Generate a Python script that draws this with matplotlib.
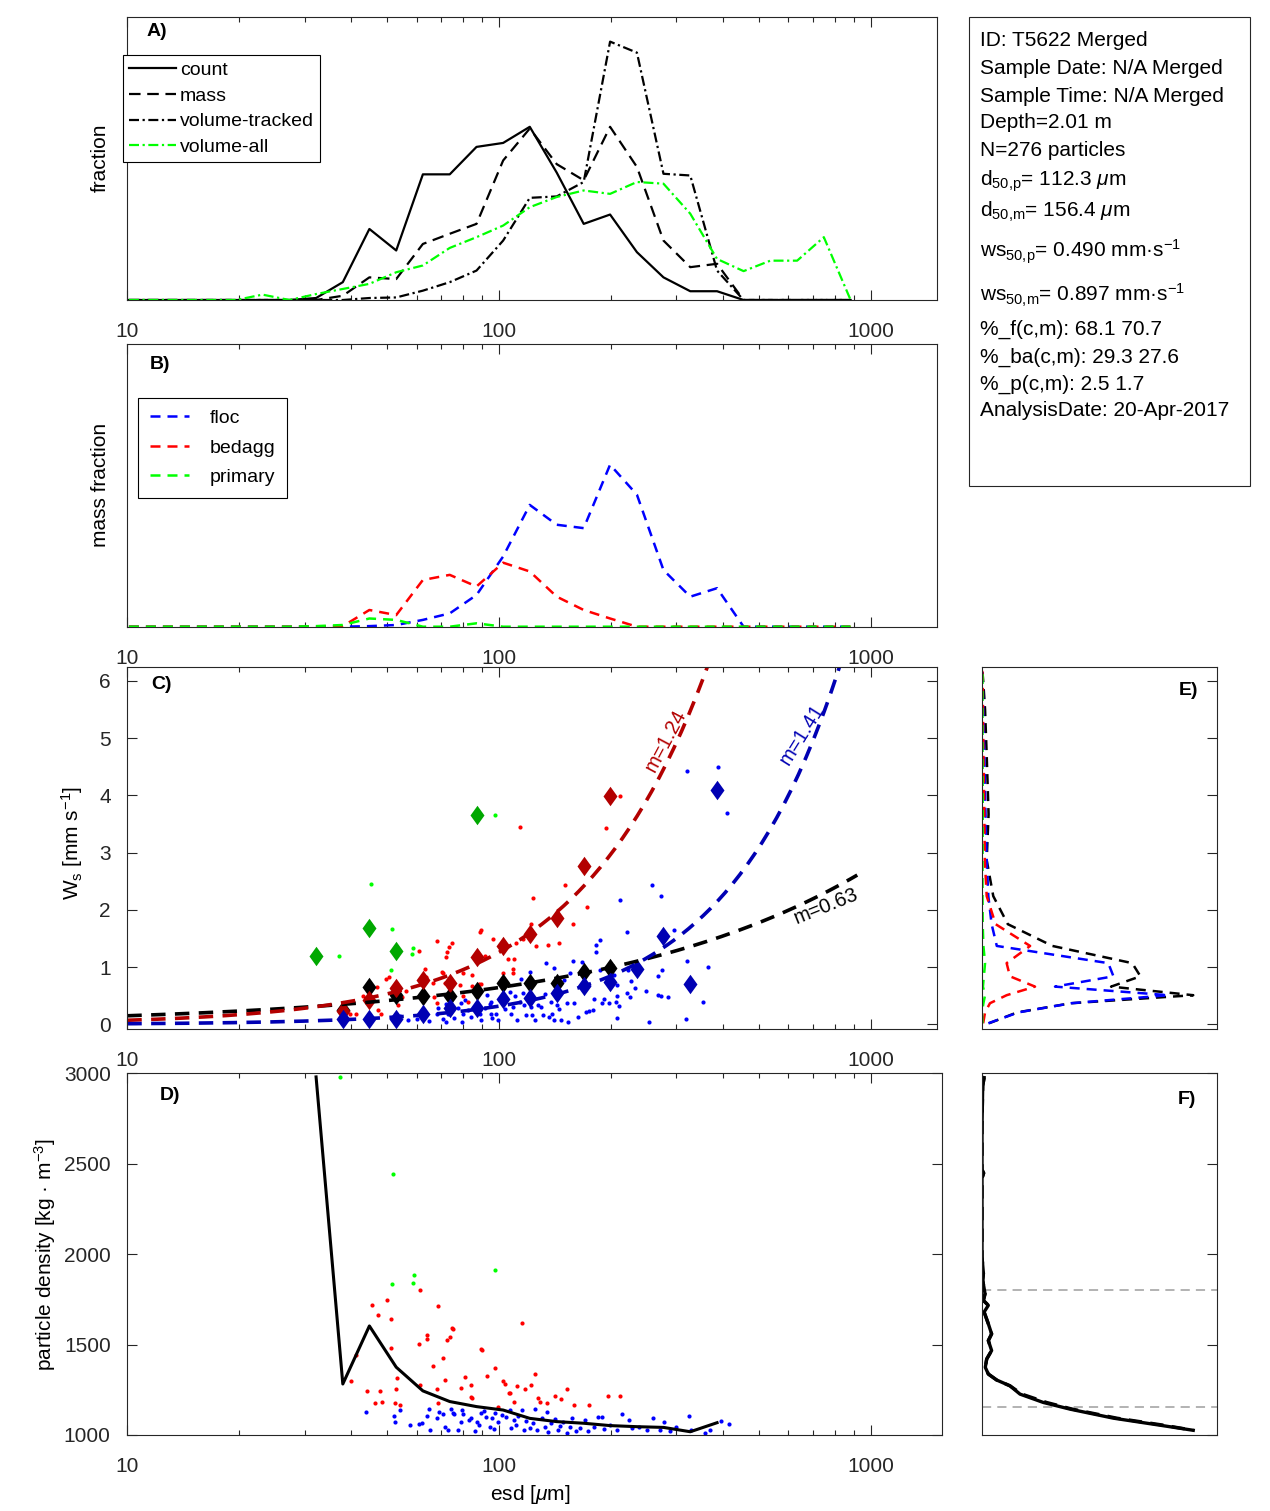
import numpy as np
import matplotlib
matplotlib.use('Agg')
import matplotlib.pyplot as plt
from matplotlib.ticker import LogLocator, FuncFormatter, NullFormatter
from matplotlib.patches import Rectangle

plt.rcParams['font.family'] = ['Liberation Sans', 'DejaVu Sans']
plt.rcParams['mathtext.fontset'] = 'custom'
plt.rcParams['mathtext.rm'] = 'Liberation Sans'
plt.rcParams['mathtext.it'] = 'Liberation Sans:italic'
plt.rcParams['mathtext.bf'] = 'Liberation Sans:bold'
plt.rcParams['mathtext.default'] = 'regular'

AXC = '#262626'
plt.rcParams['axes.edgecolor'] = AXC
plt.rcParams['axes.linewidth'] = 0.8
plt.rcParams['xtick.color'] = AXC
plt.rcParams['ytick.color'] = AXC

# ---- size bins (esd, um) ----
bins = [10.1, 11.9, 14.1, 16.6, 19.6, 23.1, 27.3, 32.2, 38.0, 44.8, 52.9, 62.4, 73.7, 87.0,
        102.6, 121.0, 143.0, 169.0, 199.0, 235.0, 277.0, 327.0, 386.0, 455.0, 537.0, 634.0,
        748.0, 883.0]

# panel A (relative fraction)
count = [0, 0, 0, 0, 0, 0, 0, 0.007, 0.063, 0.251, 0.175, 0.444, 0.444, 0.541, 0.555, 0.612,
         0.45, 0.269, 0.302, 0.169, 0.080, 0.031, 0.031, 0, 0, 0, 0, 0]
mass = [0, 0, 0, 0, 0, 0, 0, 0.0, 0.015, 0.080, 0.074, 0.198, 0.234, 0.269, 0.493, 0.606,
        0.48, 0.423, 0.612, 0.470, 0.210, 0.116, 0.128, 0, 0, 0, 0, 0]
vol_tracked = [0, 0, 0, 0, 0, 0, 0, 0.0, 0.0, 0.007, 0.009, 0.033, 0.063, 0.104, 0.210, 0.361,
               0.366, 0.417, 0.913, 0.874, 0.446, 0.440, 0.104, 0, 0, 0, 0, 0]
vol_all = [0, 0, 0, 0, 0, 0.019, 0.0, 0.021, 0.039, 0.057, 0.098, 0.122, 0.184, 0.222, 0.263,
           0.328, 0.364, 0.387, 0.375, 0.417, 0.411, 0.305, 0.145, 0.102, 0.139, 0.139, 0.222, 0.0]

# panel B (relative mass fraction)
floc = [0, 0, 0, 0, 0, 0, 0, 0, 0, 0.002, 0.006, 0.024, 0.047, 0.112, 0.248, 0.430, 0.360,
        0.348, 0.572, 0.466, 0.200, 0.106, 0.136, 0, 0, 0, 0, 0]
bedagg = [0, 0, 0, 0, 0, 0, 0, 0, 0.002, 0.059, 0.041, 0.165, 0.183, 0.142, 0.226, 0.195,
          0.106, 0.059, 0.029, 0, 0, 0, 0, 0, 0, 0, 0, 0]
primary = [0, 0, 0, 0, 0, 0, 0, 0.002, 0.006, 0.029, 0.024, 0, 0, 0.012, 0, 0, 0, 0, 0, 0,
           0, 0, 0, 0, 0, 0, 0, 0]

# panel C: bin medians of settling velocity (mm/s)
all_d = [38.0, 44.8, 52.9, 62.4, 73.7, 87.0, 102.6, 121.0, 143.0, 169.0, 199.0]
all_ws = [0.25, 0.66, 0.52, 0.50, 0.50, 0.59, 0.72, 0.72, 0.72, 0.92, 0.98]
ba_d = [38.0, 44.8, 52.9, 62.4, 73.7, 87.0, 102.6, 121.0, 143.0, 169.0, 199.0]
ba_ws = [0.24, 0.42, 0.63, 0.77, 0.73, 1.18, 1.37, 1.58, 1.85, 2.76, 3.99]
fl_d = [38.0, 44.8, 52.9, 62.4, 73.7, 87.0, 102.6, 121.0, 143.0, 169.0, 199.0, 235.0, 277.0,
        327.0, 386.0]
fl_ws = [0.087, 0.10, 0.10, 0.175, 0.28, 0.28, 0.436, 0.454, 0.54, 0.67, 0.745, 0.96, 1.54,
         0.70, 4.10]
pr_d = [32.2, 44.8, 52.9, 87.0]
pr_ws = [1.19, 1.69, 1.28, 3.65]

# power-law fits ws = a * d^m
fit_a = [0.0354, 0.00417, 0.000483]
fit_m = [0.63, 1.24, 1.41]

# individual particles in C (esd, ws)
red_C = [(113.7, 3.44), (194, 3.43), (211.8, 3.99), (123.6, 2.21), (150.4, 2.44), (172.5, 2.05),
         (158, 1.75), (145.2, 1.43), (135.4, 1.38), (125.9, 1.37), (121.6, 1.76), (115.8, 1.49),
         (111.1, 1.43), (89.6, 1.65), (88.7, 1.61), (96.4, 1.49), (91.5, 1.19), (105.8, 1.14),
         (109.6, 1.15), (109, 0.97), (109, 0.90), (102.8, 0.89), (84.4, 0.86), (88.5, 0.70),
         (80.1, 0.89), (84.7, 0.67), (89.2, 0.70), (78.3, 0.68), (80.1, 0.49), (82.7, 0.40),
         (86.9, 0.34), (63.2, 0.97), (63.7, 0.83), (66.6, 0.72), (67.9, 1.45), (71.8, 1.18),
         (72.3, 1.26), (73.3, 1.35), (74.8, 1.42), (70.1, 0.92), (70.7, 0.89), (71.5, 0.73),
         (74.5, 0.68), (73.7, 0.48), (66.9, 0.48), (68.3, 0.37), (61, 1.29), (56.1, 0.59),
         (54.8, 0.48), (53.6, 0.34), (50.7, 0.83), (47.4, 0.25), (48.1, 0.18), (49.8, 0.80),
         (46.9, 0.66), (43, 0.49), (39.8, 0.19), (41.2, 0.18)]
green_C = [(37.2, 1.19), (45.3, 2.45), (51.4, 1.67), (51.2, 0.95), (58.6, 1.33), (58.2, 1.23),
           (97.5, 3.65)]
blue_C = [(43.8, 0.08), (52.1, 0.10), (52.5, 0.07), (54.2, 0.14), (57.0, 0.076), (60.0, 0.087),
          (64.9, 0.052), (68.2, 0.175), (68.6, 0.28), (70.8, 0.087), (72.2, 0.046), (71.8, 0.355),
          (73.0, 0.19), (75.3, 0.28), (75.7, 0.116), (77.6, 0.28), (79.3, 0.035), (78.9, 0.367),
          (81.2, 0.425), (80.1, 0.19), (82.6, 0.25), (84.3, 0.134), (89.7, 0.076), (88.8, 0.175),
          (91.5, 0.28), (93.1, 0.51), (94.4, 0.35), (95.4, 0.396), (95.4, 0.18), (95.8, 0.105),
          (98.4, 0.19), (99.4, 0.076), (103.6, 0.27), (104.6, 0.425), (106.8, 0.57), (107.5, 0.19),
          (109.1, 0.31), (110.2, 0.495), (112.0, 0.076), (113.6, 0.396), (114.8, 0.79), (116.0, 0.54),
          (116.7, 0.338), (118.4, 0.163), (120.9, 0.92), (122.1, 0.31), (122.6, 0.163), (124.6, 0.076),
          (127.2, 0.338), (129.8, 0.31), (131.2, 0.163), (132.6, 0.524), (134.0, 1.066), (135.9, 0.134),
          (137.6, 0.396), (138.7, 0.19), (140.4, 0.98), (141.0, 0.076), (143.3, 0.338), (143.9, 0.524),
          (144.8, 0.268), (147.0, 0.076), (150.0, 0.775), (152.5, 0.367), (153.1, 0.046), (155.0, 0.90),
          (157.9, 1.10), (159.5, 0.38), (163.5, 0.134), (167.3, 1.095), (171.5, 0.21), (175.0, 0.233),
          (178.7, 0.25), (180.5, 0.437), (182.4, 1.387), (182.8, 1.27), (187.4, 1.47), (187.4, 0.95),
          (189.6, 0.37), (191.2, 0.45), (198.2, 0.38), (203.3, 0.86), (206.1, 0.40), (207.3, 0.50),
          (208.2, 0.68), (208.2, 0.12), (209.8, 0.33), (211.5, 2.17), (220.9, 0.55), (221.3, 1.61),
          (221.7, 0.95), (225.0, 0.47), (226.0, 0.75), (231.6, 0.63), (248.6, 0.58), (253.8, 0.05),
          (257.7, 2.44), (267.0, 0.84), (267.0, 0.52), (272.4, 0.50), (273.5, 2.25), (274.0, 0.95),
          (284.9, 0.48), (295.8, 1.64), (318.1, 0.09), (321.1, 4.43), (321.1, 1.10), (353.0, 0.40),
          (364.8, 1.01), (388.9, 4.49), (409.4, 3.69)]

# panel D: median density per bin, individual particles (esd, kg/m3)
dens_d = [32.2, 38.0, 44.8, 52.9, 62.4, 73.7, 87.0, 102.6, 121.0, 143.0, 169.0, 199.0, 235.0,
          277.0, 327.0, 386.0]
dens_med = [2980, 1282, 1603, 1375, 1244, 1185, 1157, 1138, 1092, 1074, 1065, 1052, 1046, 1042,
            1018, 1068]
red_D = [(40.0, 1301), (41.3, 1443), (44.1, 1245), (47.7, 1244), (46.5, 1175), (48.5, 1181),
         (45.4, 1720), (47.2, 1664), (50.1, 1747), (51.1, 1640), (51.1, 1482), (53.2, 1314),
         (52.8, 1253), (52.5, 1175), (54.2, 1166), (61.2, 1803), (61.3, 1277), (61.1, 1502),
         (63.9, 1554), (64.2, 1530), (66.4, 1382), (68.4, 1716), (67.9, 1253), (68.4, 1175),
         (70.5, 1428), (71.7, 1304), (72.4, 1526), (73.8, 1544), (74.6, 1594), (75.2, 1585),
         (79.1, 1258), (80.9, 1319), (83.9, 1277), (84.1, 1208), (84.6, 1203), (89.6, 1474),
         (90.2, 1470), (92.9, 1328), (97.3, 1369), (99.2, 1157), (102.5, 1301), (103.5, 1282),
         (106.3, 1234), (107, 1231), (109.8, 1185), (112, 1271), (115.3, 1622), (117.3, 1255),
         (122, 1277), (125.2, 1338), (127.3, 1203), (128.8, 1185), (135, 1175), (141.4, 1216),
         (147.1, 1197), (152, 1253), (159.1, 1166), (174.4, 1166), (196.3, 1216), (211.8, 1216)]
green_D = [(37.4, 2980), (51.8, 2445), (51.5, 1834), (59.0, 1887), (58.8, 1838), (97.6, 1910)]
blue_D = [(43.8, 1125), (52.1, 1105), (52.5, 1074), (54.2, 1138), (57.5, 1055), (60.8, 1061),
          (62.0, 1065), (63.9, 1107), (64.7, 1142), (65.2, 1028), (68.2, 1092), (69.1, 1129),
          (70.5, 1116), (71.5, 1046), (72.9, 1028), (74.1, 1142), (75.0, 1120), (75.5, 1114),
          (77.8, 1028), (79.1, 1074), (79.4, 1138), (80.2, 1116), (83.1, 1083), (84.0, 1092),
          (86.4, 1024), (87.3, 1074), (88.2, 1055), (89.6, 1120), (91.4, 1133), (92.5, 1101),
          (94.8, 1046), (96.0, 1092), (97.2, 1031), (97.7, 1120), (99.2, 1074), (101.8, 1111),
          (104.5, 1101), (107.0, 1138), (107.6, 1037), (109.8, 1083), (111.2, 1055), (112.6, 1105),
          (115.3, 1138), (116.8, 1028), (118.3, 1079), (121.2, 1037), (123.6, 1065), (124.7, 1142),
          (126.8, 1028), (130.7, 1092), (133.1, 1046), (134.2, 1129), (135.6, 1018), (138.2, 1065),
          (141.4, 1087), (144.2, 1028), (145.7, 1050), (148.3, 1074), (152.5, 1013), (154.9, 1046),
          (157.3, 1092), (161.2, 1024), (165.4, 1037), (169.9, 1083), (173.9, 1024), (179.7, 1046),
          (184.5, 1101), (188.9, 1101), (191.9, 1031), (198.6, 1055), (208.3, 1028), (213.7, 1116),
          (223.9, 1083), (228.3, 1037), (237.5, 1046), (249.9, 1028), (260.3, 1092), (271.3, 1028),
          (277.4, 1074), (289.1, 1024), (298.8, 1046), (324.3, 1105), (327.6, 1028), (358.0, 1009),
          (369.3, 1028), (395.1, 1077), (415.0, 1059)]

# panel E: settling velocity distributions
E_ws = [0.02, 0.21, 0.37, 0.51, 0.66, 0.84, 1.07, 1.37, 1.75, 2.24, 2.87, 3.67, 4.7, 5.5, 6.0, 6.25]
E_all = [0.03, 0.15, 0.38, 0.90, 0.55, 0.675, 0.64, 0.30, 0.11, 0.048, 0.02, 0.028, 0.02, 0.013,
         0.005, 0.0]
E_floc = [0.027, 0.155, 0.38, 0.794, 0.311, 0.56, 0.538, 0.063, 0.041, 0.027, 0.02, 0.015, 0.01,
          0.006, 0.003, 0.0]
E_bedagg = [0.005, 0.013, 0.034, 0.105, 0.226, 0.119, 0.105, 0.205, 0.058, 0.02, 0.012, 0.01,
            0.006, 0.004, 0.003, 0.0]
E_primary = [0.002, 0.0, 0.006, 0.013, 0.004, 0.008, 0.013, 0.006, 0.003, 0.002, 0.002, 0.003,
             0.002, 0.002, 0.002, 0.002]

# panel F: density distribution
F_rho = [2976, 2930, 2707, 2467, 2448, 2420, 2244, 1985, 1893, 1856, 1781, 1744, 1717, 1680,
         1615, 1559, 1522, 1467, 1420, 1374, 1337, 1304, 1272, 1226, 1180, 1143, 1093, 1054, 1026]
F_solid = [0.009, 0.003, 0.0, 0.0, 0.007, 0.0, 0.0, 0.0, 0.006, 0.003, 0.013, 0.006, 0.027,
           0.009, 0.027, 0.041, 0.027, 0.041, 0.020, 0.014, 0.027, 0.0625, 0.119, 0.162, 0.261,
           0.375, 0.56, 0.759, 0.90]
F_dashed = [0.009, 0.003, 0.0, 0.0, 0.007, 0.0, 0.0, 0.0, 0.006, 0.003, 0.013, 0.006, 0.027,
            0.009, 0.027, 0.041, 0.027, 0.041, 0.020, 0.014, 0.027, 0.0625, 0.119, 0.17, 0.275,
            0.385, 0.575, 0.775, 0.90]
F_lines = [1800, 1155]

info = [('ID: T5622 Merged', 46),
        ('Sample Date: N/A Merged', 74),
        ('Sample Time: N/A Merged', 101.5),
        ('Depth=2.01 m', 128.5),
        ('N=276 particles', 156),
        (r'd$_{50{,}p}$= 112.3 $\mathit{\mu}$m', 185.5),
        (r'd$_{50{,}m}$= 156.4 $\mathit{\mu}$m', 216.5),
        (r'ws$_{50{,}p}$= 0.490 mm·s$^{-1}$', 257),
        (r'ws$_{50{,}m}$= 0.897 mm·s$^{-1}$', 301.5),
        ('%_f(c,m): 68.1 70.7', 335),
        ('%_ba(c,m): 29.3 27.6', 362.5),
        ('%_p(c,m): 2.5 1.7', 390),
        ('AnalysisDate: 20-Apr-2017', 416.5)]

DRED = (0.7, 0, 0)
DBLUE = (0, 0, 0.7)
DGREEN = (0, 0.66, 0)
GREEN = (0, 1, 0)

W, H = 1270, 1511
fig = plt.figure(figsize=(12.7, 15.11), dpi=100)


def box(l, t, r, b):
    return [l / W, 1 - b / H, (r - l) / W, (b - t) / H]


def esd_axis(ax, xmax):
    ax.set_xscale('log')
    ax.set_xlim(10, xmax)
    ax.xaxis.set_major_locator(LogLocator(base=10, numticks=10))
    ax.xaxis.set_minor_locator(LogLocator(base=10, subs=np.arange(2, 10), numticks=100))
    ax.xaxis.set_major_formatter(FuncFormatter(lambda v, p: f'{v:g}'))
    ax.xaxis.set_minor_formatter(NullFormatter())
    ax.tick_params(axis='x', which='both', direction='in', top=True, bottom=True)
    ax.tick_params(axis='x', which='major', length=7, width=0.8, pad=16, labelsize=15)
    ax.tick_params(axis='x', which='minor', length=3.5, width=0.8)


def panel_label(ax, txt, x, y):
    ax.text(x, y, txt, transform=ax.transAxes, fontsize=14, fontweight='bold',
            ha='center', va='center')


axA = fig.add_axes(box(127.3, 17, 936.7, 300))
axB = fig.add_axes(box(127.3, 343.5, 936.7, 626.7))
axC = fig.add_axes(box(127.3, 667, 936.7, 1029))
axD = fig.add_axes(box(127.3, 1073.3, 942, 1435))
axE = fig.add_axes(box(982, 667, 1216.7, 1029))
axF = fig.add_axes(box(982, 1073.3, 1216.7, 1435))

dash = (0, (5.2, 3))
dashdot = (0, (4.5, 1.6, 1, 1.6))

# ---- A ----
axA.plot(bins, count, '-', color='k', lw=1.6, label='count')
axA.plot(bins, mass, linestyle=dash, color='k', lw=1.6, label='mass')
axA.plot(bins, vol_tracked, linestyle=dashdot, color='k', lw=1.6, label='volume-tracked')
axA.plot(bins, vol_all, linestyle=dashdot, color=GREEN, lw=1.6, label='volume-all')
esd_axis(axA, 1505)
axA.set_ylim(0, 1)
axA.set_yticks([])
legA = axA.legend(loc='upper left', bbox_to_anchor=(-0.005, 0.866), borderaxespad=0,
                  fontsize=14, fancybox=False, edgecolor='k', framealpha=1,
                  handlelength=2.4, handletextpad=0.2, labelspacing=0.42, borderpad=0.32)
legA.get_frame().set_linewidth(0.8)
panel_label(axA, 'A)', 0.037, 0.947)

# ---- B ----
bdash = (0, (4, 2.8))
axB.plot(bins, floc, linestyle=bdash, color='b', lw=1.8, label='floc')
axB.plot(bins, bedagg, linestyle=bdash, color='r', lw=1.8, label='bedagg')
axB.plot(bins, primary, linestyle=bdash, color=GREEN, lw=1.8, label='primary')
esd_axis(axB, 1505)
axB.set_ylim(0, 1)
axB.set_yticks([])
legB = axB.legend(loc='upper left', bbox_to_anchor=(0.0136, 0.809), borderaxespad=0,
                  fontsize=14, fancybox=False, edgecolor='k', framealpha=1,
                  handlelength=2.0, handletextpad=1.05, labelspacing=0.62, borderpad=0.6)
legB.get_frame().set_linewidth(0.8)
panel_label(axB, 'B)', 0.041, 0.926)

# ---- C ----
diam = [(0, 1), (0.72, 0), (0, -1), (-0.72, 0), (0, 1)]
for pts, col in ((blue_C, 'b'), (red_C, 'r'), (green_C, GREEN)):
    d, w = np.array(pts).T
    axC.plot(d, w, 'o', ms=3, color=col, mec='none')
axC.plot(all_d, all_ws, marker=diam, ls='none', ms=14, color='k', mec='none')
axC.plot(ba_d, ba_ws, marker=diam, ls='none', ms=14, color=DRED, mec='none')
axC.plot(fl_d, fl_ws, marker=diam, ls='none', ms=14, color=DBLUE, mec='none')
axC.plot(pr_d, pr_ws, marker=diam, ls='none', ms=14, color=DGREEN, mec='none')
d_fit = np.logspace(1, np.log10(920), 200)
for a, m, col in zip(fit_a, fit_m, ('k', DRED, DBLUE)):
    axC.plot(d_fit, a * d_fit ** m, linestyle=(0, (4, 2.6)), color=col, lw=2.6)
axC.text(281, 4.96, 'm=1.24', color=DRED, fontsize=14.5, rotation=62,
         rotation_mode='anchor', ha='center', va='center')
axC.text(653, 5.07, 'm=1.41', color=DBLUE, fontsize=14.5, rotation=58,
         rotation_mode='anchor', ha='center', va='center')
axC.text(759, 2.07, 'm=0.63', color='k', fontsize=14.5, rotation=22,
         rotation_mode='anchor', ha='center', va='center')
esd_axis(axC, 1505)
axC.set_ylim(-0.08, 6.24)
axC.set_yticks(range(0, 7))
axC.tick_params(axis='y', direction='in', left=True, right=True, length=7, width=0.8,
                labelsize=15, pad=12)
panel_label(axC, 'C)', 0.042, 0.953)

# ---- D ----
for pts, col in ((blue_D, 'b'), (red_D, 'r'), (green_D, GREEN)):
    d, r = np.array(pts).T
    axD.plot(d, r, 'o', ms=3, color=col, mec='none')
axD.plot(dens_d, dens_med, '-', color='k', lw=2.2)
esd_axis(axD, 1555)
axD.set_ylim(1000, 3000)
axD.set_yticks(range(1000, 3001, 500))
axD.tick_params(axis='y', direction='in', left=True, right=True, length=7, width=0.8,
                labelsize=15, pad=12)
panel_label(axD, 'D)', 0.053, 0.939)

# ---- E ----
edash = (0, (4, 2.8))
axE.plot(E_all, E_ws, linestyle=edash, color='k', lw=1.8)
axE.plot(E_floc, E_ws, linestyle=edash, color='b', lw=1.8)
axE.plot(E_bedagg, E_ws, linestyle=edash, color='r', lw=1.8)
axE.plot(E_primary, E_ws, linestyle=edash, color=GREEN, lw=1.8)
axE.set_xlim(0, 1)
axE.set_ylim(-0.08, 6.24)
axE.set_xticks([])
axE.set_yticks(range(0, 7))
axE.tick_params(axis='y', direction='in', left=False, right=True, labelleft=False,
                length=7, width=0.8)
panel_label(axE, 'E)', 0.88, 0.936)

# ---- F ----
for yv in F_lines:
    axF.axhline(yv, color=(0.62, 0.62, 0.62), lw=1.1, linestyle=(0, (6, 4)))
axF.plot(F_dashed, F_rho, linestyle=(0, (4, 2.5)), color='k', lw=2.4)
axF.plot(F_solid, F_rho, '-', color='k', lw=2.4)
axF.set_xlim(0, 1)
axF.set_ylim(1000, 3000)
axF.set_xticks([])
axF.set_yticks(range(1000, 3001, 500))
axF.tick_params(axis='y', direction='in', left=False, right=True, labelleft=False,
                length=7, width=0.8)
panel_label(axF, 'F)', 0.874, 0.928)

# axis labels
fig.text(100 / W, 1 - 158 / H, 'fraction', rotation=90, ha='center', va='center', fontsize=15)
fig.text(100 / W, 1 - 485 / H, 'mass fraction', rotation=90, ha='center', va='center', fontsize=15)
fig.text(72 / W, 1 - 843 / H, r'W$_s$ [mm s$^{-1}$]', rotation=90, ha='center', va='center',
         fontsize=15)
fig.text(45 / W, 1 - 1255 / H, r'particle density [kg · m$^{-3}$]', rotation=90, ha='center',
         va='center', fontsize=15)
fig.text(530 / W, 1 - 1494 / H, r'esd [$\mathit{\mu}$m]', ha='center', va='center', fontsize=15)

# info box
fig.add_artist(Rectangle((969 / W, 1 - 486 / H), 281 / W, 469 / H, transform=fig.transFigure,
                         fill=False, edgecolor=AXC, lw=0.8))
for txt, yb in info:
    fig.text(980 / W, 1 - yb / H, txt, ha='left', va='baseline', fontsize=15)

fig.savefig('out.png', dpi=100)
